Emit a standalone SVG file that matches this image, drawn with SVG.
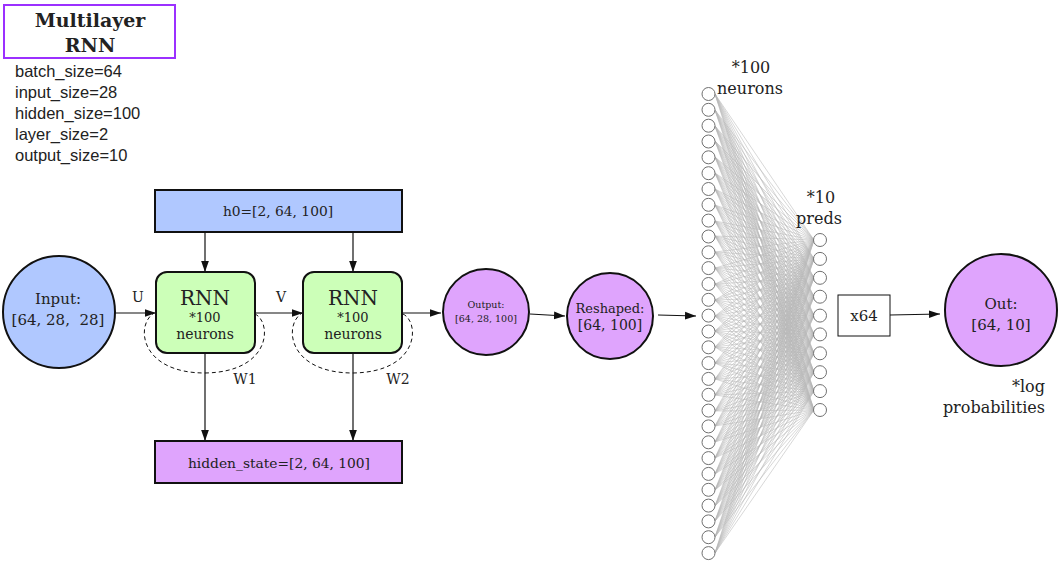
<svg xmlns="http://www.w3.org/2000/svg" xmlns:xlink="http://www.w3.org/1999/xlink" width="1061" height="565" viewBox="0 0 1061 565">
<style>
.s{font-family:"DejaVu Serif","Liberation Serif",serif;fill:#222;text-anchor:middle}
.p{font-family:"Liberation Sans",Arial,sans-serif;font-size:16.5px;fill:#222}
.box{stroke:#111;stroke-width:2}
.ln{stroke:#111;stroke-width:1.2;fill:none}
.dash{stroke:#111;stroke-width:1;fill:none;stroke-dasharray:4 3}
.nc{fill:#fff;stroke:#707070;stroke-width:1}
.w{stroke:#b8b8b8;stroke-width:0.55;fill:none}
</style>
<defs>
<marker id="ah" viewBox="0 0 10 10" refX="10" refY="5" markerWidth="11" markerHeight="11" markerUnits="userSpaceOnUse" orient="auto">
<path d="M0 1.5L10 5L0 8.5z" fill="#111"/>
</marker>
<path id="fan" class="w" vector-effect="non-scaling-stroke" d="M715 94 814 240M715 110 814 240M715 126 814 240M715 141 814 240M715 157 814 240M715 173 814 240M715 189 814 240M715 205 814 240M715 221 814 240M715 236 814 240M715 252 814 240M715 268 814 240M715 284 814 240M715 300 814 240M715 316 814 240M715 331 814 240M715 347 814 240M715 363 814 240M715 379 814 240M715 395 814 240M715 411 814 240M715 426 814 240M715 442 814 240M715 458 814 240M715 474 814 240M715 490 814 240M715 506 814 240M715 521 814 240M715 537 814 240M715 553 814 240"/>
</defs>

<g id="title">
<rect x="4" y="5" width="171" height="53" fill="#fff" stroke="#9b30ff" stroke-width="2"/>
<text class="s" x="90" y="27" font-size="19" font-weight="bold">Multilayer</text>
<text class="s" x="90" y="52" font-size="19" font-weight="bold">RNN</text>
</g>
<g id="params">
<text class="p" x="15" y="77">batch_size=64</text>
<text class="p" x="15" y="98">input_size=28</text>
<text class="p" x="15" y="119">hidden_size=100</text>
<text class="p" x="15" y="140">layer_size=2</text>
<text class="p" x="15" y="161">output_size=10</text>
</g>

<g id="connectors">
<line class="ln" x1="205" y1="232" x2="205" y2="272" marker-end="url(#ah)"/>
<line class="ln" x1="353" y1="232" x2="353" y2="272" marker-end="url(#ah)"/>
<line class="ln" x1="115" y1="313" x2="156" y2="313" marker-end="url(#ah)"/>
<line class="ln" x1="255" y1="313" x2="303" y2="313" marker-end="url(#ah)"/>
<line class="ln" x1="402" y1="313" x2="441" y2="313" marker-end="url(#ah)"/>
<line class="ln" x1="205" y1="353" x2="205" y2="441" marker-end="url(#ah)"/>
<line class="ln" x1="353" y1="353" x2="353" y2="441" marker-end="url(#ah)"/>
<line class="ln" x1="530" y1="314" x2="565" y2="316" marker-end="url(#ah)"/>
<line class="ln" x1="658" y1="315" x2="696" y2="316" marker-end="url(#ah)"/>
<line class="ln" x1="890" y1="315" x2="940" y2="314" marker-end="url(#ah)"/>
<path class="dash" d="M255 314C272 322 272 372 205 373C140 373 135 325 154 313"/>
<path class="dash" d="M403 314C420 322 420 372 353 373C288 373 283 325 302 313"/>
<text class="s" x="138" y="302" font-size="14">U</text>
<text class="s" x="281" y="302" font-size="14">V</text>
<text class="s" x="245" y="384" font-size="14">W1</text>
<text class="s" x="398" y="384" font-size="14">W2</text>
</g>

<g id="input">
<circle cx="59" cy="312" r="56" fill="#b0c8ff" class="box"/>
<text class="s" x="58" y="304" font-size="15">Input:</text>
<text class="s" x="58" y="325" font-size="15" xml:space="preserve">[64, 28,  28]</text>
</g>
<g id="h0">
<rect x="155" y="190" width="247" height="42" fill="#b0c8ff" class="box"/>
<text class="s" x="278" y="216" font-size="13.8">h0=[2, 64, 100]</text>
</g>
<g id="rnn1">
<rect x="156" y="272" width="99" height="81" rx="11" fill="#ccffb8" class="box"/>
<text class="s" x="205" y="305" font-size="20">RNN</text>
<text class="s" x="205" y="322" font-size="13">*100</text>
<text class="s" x="205" y="339" font-size="14">neurons</text>
</g>
<g id="rnn2">
<rect x="303" y="272" width="99" height="81" rx="11" fill="#ccffb8" class="box"/>
<text class="s" x="353" y="305" font-size="20">RNN</text>
<text class="s" x="353" y="322" font-size="13">*100</text>
<text class="s" x="353" y="339" font-size="14">neurons</text>
</g>
<g id="hidden">
<rect x="155" y="441" width="247" height="42" fill="#dfa4fd" class="box"/>
<text class="s" x="279" y="468" font-size="13.8">hidden_state=[2, 64, 100]</text>
</g>
<g id="output">
<circle cx="486" cy="312" r="43" fill="#dfa4fd" class="box"/>
<text class="s" x="486" y="308" font-size="9.5">Output:</text>
<text class="s" x="486" y="322" font-size="9.5">[64, 28, 100]</text>
</g>
<g id="reshaped">
<circle cx="610" cy="316" r="43" fill="#dfa4fd" class="box"/>
<text class="s" x="610" y="313" font-size="13">Reshaped:</text>
<text class="s" x="610" y="330" font-size="14">[64, 100]</text>
</g>

<g id="network">
<use xlink:href="#fan"/>
<use xlink:href="#fan" transform="matrix(1 0.1908 0 1 0 -136.43)"/>
<use xlink:href="#fan" transform="matrix(1 0.3816 0 1 0 -272.86)"/>
<use xlink:href="#fan" transform="matrix(1 0.5724 0 1 0 -409.29)"/>
<use xlink:href="#fan" transform="matrix(1 0.7632 0 1 0 -545.72)"/>
<use xlink:href="#fan" transform="matrix(1 0.9540 0 1 0 -682.15)"/>
<use xlink:href="#fan" transform="matrix(1 1.1449 0 1 0 -818.58)"/>
<use xlink:href="#fan" transform="matrix(1 1.3357 0 1 0 -955.01)"/>
<use xlink:href="#fan" transform="matrix(1 1.5265 0 1 0 -1091.44)"/>
<use xlink:href="#fan" transform="matrix(1 1.7173 0 1 0 -1227.87)"/>
<g id="layer100">
<circle class="nc" cx="708.5" cy="94" r="6.5"/><circle class="nc" cx="708.5" cy="109.8" r="6.5"/><circle class="nc" cx="708.5" cy="125.7" r="6.5"/><circle class="nc" cx="708.5" cy="141.5" r="6.5"/><circle class="nc" cx="708.5" cy="157.3" r="6.5"/><circle class="nc" cx="708.5" cy="173.2" r="6.5"/><circle class="nc" cx="708.5" cy="189" r="6.5"/><circle class="nc" cx="708.5" cy="204.8" r="6.5"/><circle class="nc" cx="708.5" cy="220.6" r="6.5"/><circle class="nc" cx="708.5" cy="236.5" r="6.5"/><circle class="nc" cx="708.5" cy="252.3" r="6.5"/><circle class="nc" cx="708.5" cy="268.1" r="6.5"/><circle class="nc" cx="708.5" cy="284" r="6.5"/><circle class="nc" cx="708.5" cy="299.8" r="6.5"/><circle class="nc" cx="708.5" cy="315.6" r="6.5"/><circle class="nc" cx="708.5" cy="331.5" r="6.5"/><circle class="nc" cx="708.5" cy="347.3" r="6.5"/><circle class="nc" cx="708.5" cy="363.1" r="6.5"/><circle class="nc" cx="708.5" cy="378.9" r="6.5"/><circle class="nc" cx="708.5" cy="394.8" r="6.5"/><circle class="nc" cx="708.5" cy="410.6" r="6.5"/><circle class="nc" cx="708.5" cy="426.4" r="6.5"/><circle class="nc" cx="708.5" cy="442.3" r="6.5"/><circle class="nc" cx="708.5" cy="458.1" r="6.5"/><circle class="nc" cx="708.5" cy="473.9" r="6.5"/><circle class="nc" cx="708.5" cy="489.8" r="6.5"/><circle class="nc" cx="708.5" cy="505.6" r="6.5"/><circle class="nc" cx="708.5" cy="521.4" r="6.5"/><circle class="nc" cx="708.5" cy="537.2" r="6.5"/><circle class="nc" cx="708.5" cy="553.1" r="6.5"/>
</g>
<g id="layer10">
<circle class="nc" cx="820" cy="240" r="6.5"/><circle class="nc" cx="820" cy="258.9" r="6.5"/><circle class="nc" cx="820" cy="277.8" r="6.5"/><circle class="nc" cx="820" cy="296.7" r="6.5"/><circle class="nc" cx="820" cy="315.6" r="6.5"/><circle class="nc" cx="820" cy="334.4" r="6.5"/><circle class="nc" cx="820" cy="353.3" r="6.5"/><circle class="nc" cx="820" cy="372.2" r="6.5"/><circle class="nc" cx="820" cy="391.1" r="6.5"/><circle class="nc" cx="820" cy="410" r="6.5"/>
</g>
<text class="s" x="751" y="73" font-size="16">*100</text>
<text class="s" x="750" y="94" font-size="16">neurons</text>
<text class="s" x="821" y="203" font-size="16">*10</text>
<text class="s" x="819" y="224" font-size="16">preds</text>
</g>

<g id="x64">
<rect x="838" y="295" width="52" height="41" fill="#fff" stroke="#111" stroke-width="1"/>
<text class="s" x="864" y="321" font-size="15">x64</text>
</g>
<g id="out">
<circle cx="1001" cy="310" r="56" fill="#dfa4fd" class="box"/>
<text class="s" x="1001" y="309" font-size="15">Out:</text>
<text class="s" x="1001" y="330" font-size="15">[64, 10]</text>
<text class="s" x="1045" y="392" font-size="16" style="text-anchor:end">*log</text>
<text class="s" x="1045" y="413" font-size="16" style="text-anchor:end">probabilities</text>
</g>
</svg>
